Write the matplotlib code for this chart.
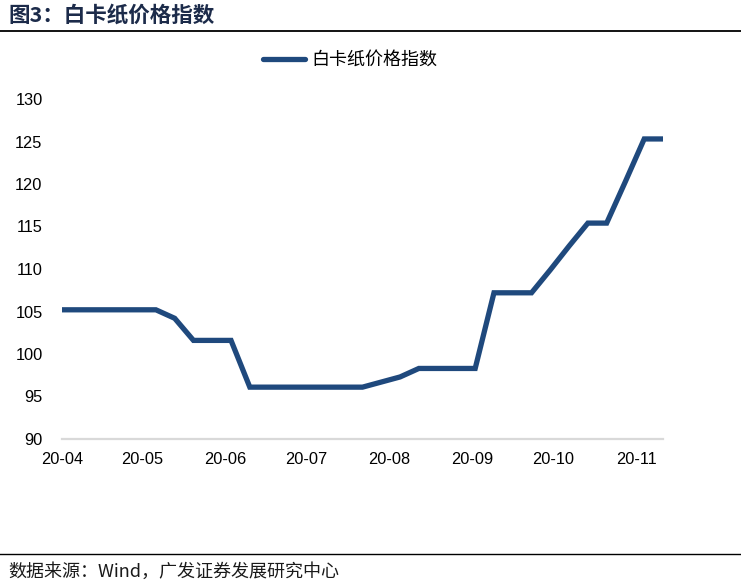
import matplotlib
matplotlib.use("Agg")
import matplotlib.pyplot as plt
import pandas as pd

plt.rcParams['font.family'] = ['Liberation Sans', 'Noto Sans CJK SC', 'DejaVu Sans']

title = "图3：白卡纸价格指数"
series_name = "白卡纸价格指数"
source = "数据来源：Wind，广发证券发展研究中心"

dates = [
    "2020-04-01", "2020-04-08", "2020-04-15", "2020-04-22", "2020-04-29",
    "2020-05-06", "2020-05-13", "2020-05-20", "2020-05-27", "2020-06-03",
    "2020-06-10", "2020-06-17", "2020-06-24", "2020-07-01", "2020-07-08",
    "2020-07-15", "2020-07-22", "2020-07-29", "2020-08-05", "2020-08-12",
    "2020-08-19", "2020-08-26", "2020-09-02", "2020-09-09", "2020-09-16",
    "2020-09-23", "2020-09-30", "2020-10-07", "2020-10-14", "2020-10-21",
    "2020-10-28", "2020-11-04", "2020-11-11",
]
values = [
    105.2, 105.2, 105.2, 105.2, 105.2,
    105.2, 104.2, 101.6, 101.6, 101.6,
    96.1, 96.1, 96.1, 96.1, 96.1,
    96.1, 96.1, 96.7, 97.3, 98.3,
    98.3, 98.3, 98.3, 107.2, 107.2,
    107.2, 109.9, 112.7, 115.4, 115.4,
    120.3, 125.3, 125.3,
]
tick_months = ["2020-04-01", "2020-05-01", "2020-06-01", "2020-07-01",
               "2020-08-01", "2020-09-01", "2020-10-01", "2020-11-01"]
tick_labels = ["20-04", "20-05", "20-06", "20-07", "20-08", "20-09", "20-10", "20-11"]
y_ticks = [90, 95, 100, 105, 110, 115, 120, 125, 130]

x = pd.to_datetime(dates)

W, H = 741, 587
fig = plt.figure(figsize=(W / 100, H / 100), dpi=100)
ax = fig.add_axes([62 / W, 1 - 439 / H, (663 - 62) / W, (439 - 99) / H])

line_color = "#1F497D"
ax.plot(x, values, color=line_color, linewidth=3.8, solid_capstyle='round',
        solid_joinstyle='miter', label=series_name)

ax.set_xlim(x[0], x[-1])
ax.set_ylim(90, 130)
ax.set_yticks(y_ticks)
ax.set_yticklabels([str(v) for v in y_ticks], fontsize=11.8, color="#000000",
                   family='Liberation Sans')
ax.set_xticks(pd.to_datetime(tick_months))
ax.set_xticklabels(tick_labels, fontsize=11.8, color="#000000", family='Liberation Sans')
ax.tick_params(axis='both', length=0)
ax.tick_params(axis='y', pad=14)
ax.tick_params(axis='x', pad=9)

for s in ['top', 'right', 'left']:
    ax.spines[s].set_visible(False)
ax.spines['bottom'].set_color("#D9D9D9")
ax.spines['bottom'].set_linewidth(1.6)

leg = fig.legend(loc='center', bbox_to_anchor=(350 / W, 1 - 60 / H), frameon=False,
                 handlelength=2.3, handletextpad=0.35,
                 prop={'family': ['Noto Sans CJK SC'], 'size': 13})

# Title
fig.text(8 / W, 1 - 15 / H, title, fontsize=15.5, fontweight='bold',
         color="#1C2B4A", ha='left', va='center', family=['Noto Sans CJK SC'])
fig.add_artist(plt.Line2D([0, 1], [1 - 31 / H, 1 - 31 / H], color='black', linewidth=1.3,
                          transform=fig.transFigure))

# Source
fig.add_artist(plt.Line2D([0, 1], [1 - 554 / H, 1 - 554 / H], color='black', linewidth=1.0,
                          transform=fig.transFigure))
fig.text(8 / W, 1 - 572 / H, source, fontsize=13, color="#1A1A1A",
         ha='left', va='center', family=['Noto Sans CJK SC', 'DejaVu Sans'])

fig.savefig("out.png", dpi=100)
